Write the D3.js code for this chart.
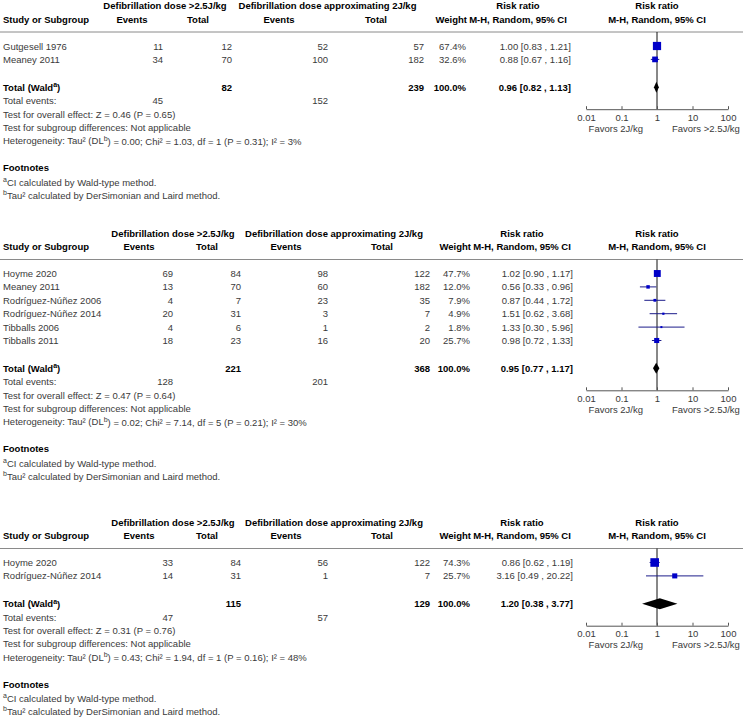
<!DOCTYPE html>
<html>
<head>
<meta charset="utf-8">
<script src="https://cdn.jsdelivr.net/npm/d3@7"></script>
<style>
  body { margin: 0; background: #fff; }
  svg { display: block; font-family: "Liberation Sans", Arial, sans-serif; font-size: 9.5px; }
</style>
</head>
<body>
<div id="chart"></div>
<script>
// column headings / labels
const groupA = "Defibrillation dose >2.5J/kg";
const groupB = "Defibrillation dose approximating 2J/kg";
const favorsLabels = ["Favors 2J/kg", "Favors >2.5J/kg"];
const axisTicks = [0.01, 0.1, 1, 10, 100];

// panel 1
const studies1 = [
  {name: "Gutgesell 1976", evA: 11, totA: 12, evB: 52, totB: 57, weight: 67.4, rr: 1.00, lo: 0.83, hi: 1.21},
  {name: "Meaney 2011", evA: 34, totA: 70, evB: 100, totB: 182, weight: 32.6, rr: 0.88, lo: 0.67, hi: 1.16}
];
const totals1 = {evA: 45, totA: 82, evB: 152, totB: 239, rr: 0.96, lo: 0.82, hi: 1.13};
const tests1 = ["Z = 0.46 (P = 0.65)", "0.00", "1.03", "1", "0.31", "3%"];

// panel 2
const studies2 = [
  {name: "Hoyme 2020", evA: 69, totA: 84, evB: 98, totB: 122, weight: 47.7, rr: 1.02, lo: 0.90, hi: 1.17},
  {name: "Meaney 2011", evA: 13, totA: 70, evB: 60, totB: 182, weight: 12.0, rr: 0.56, lo: 0.33, hi: 0.96},
  {name: "Rodríguez-Núñez 2006", evA: 4, totA: 7, evB: 23, totB: 35, weight: 7.9, rr: 0.87, lo: 0.44, hi: 1.72},
  {name: "Rodríguez-Núñez 2014", evA: 20, totA: 31, evB: 3, totB: 7, weight: 4.9, rr: 1.51, lo: 0.62, hi: 3.68},
  {name: "Tibballs 2006", evA: 4, totA: 6, evB: 1, totB: 2, weight: 1.8, rr: 1.33, lo: 0.30, hi: 5.96},
  {name: "Tibballs 2011", evA: 18, totA: 23, evB: 16, totB: 20, weight: 25.7, rr: 0.98, lo: 0.72, hi: 1.33}
];
const totals2 = {evA: 128, totA: 221, evB: 201, totB: 368, rr: 0.95, lo: 0.77, hi: 1.17};
const tests2 = ["Z = 0.47 (P = 0.64)", "0.02", "7.14", "5", "0.21", "30%"];

// panel 3
const studies3 = [
  {name: "Hoyme 2020", evA: 33, totA: 84, evB: 56, totB: 122, weight: 74.3, rr: 0.86, lo: 0.62, hi: 1.19},
  {name: "Rodríguez-Núñez 2014", evA: 14, totA: 31, evB: 1, totB: 7, weight: 25.7, rr: 3.16, lo: 0.49, hi: 20.22}
];
const totals3 = {evA: 47, totA: 115, evB: 57, totB: 129, rr: 1.20, lo: 0.38, hi: 3.77};
const tests3 = ["Z = 0.31 (P = 0.76)", "0.43", "1.94", "1", "0.16", "48%"];

const width = 743, height = 717;
const rowH = 13.4;
const textColor = "#3a3a3a";

// column positions (panel 1 was typeset a little narrower)
const colsNarrow = {evA: 163, totA: 232, evB: 328, totB: 424, weight: 466, ci: 571,
                    hEvA: 132, hTotA: 198, hEvB: 279, hTotB: 376, hRR: 518};
const colsWide = {evA: 173, totA: 241, evB: 328, totB: 430, weight: 470, ci: 573,
                  hEvA: 139, hTotA: 207, hEvB: 286, hTotB: 382, hRR: 522};

const panels = [
  {top: 5.5, cols: colsNarrow, studies: studies1, totals: totals1, tests: tests1},
  {top: 233, cols: colsWide, studies: studies2, totals: totals2, tests: tests2},
  {top: 522, cols: colsWide, studies: studies3, totals: totals3, tests: tests3}
];

const svg = d3.select("#chart").append("svg")
  .attr("width", width)
  .attr("height", height);

const x = d3.scaleLog().domain([0.01, 100]).range([586, 728]);
const boxSize = d3.scaleSqrt().domain([0, 100]).range([0, 10]);
const fmt2 = d3.format(".2f");
const ciText = d => fmt2(d.rr) + " [" + fmt2(d.lo) + " , " + fmt2(d.hi) + "]";

function txt(g, str, xPos, y, anchor, bold) {
  return g.append("text")
    .attr("x", xPos)
    .attr("y", y)
    .attr("dominant-baseline", "central")
    .attr("text-anchor", anchor || "start")
    .attr("font-weight", bold ? "bold" : null)
    .attr("fill", bold ? "#000" : textColor)
    .text(str);
}

function sup(t, s) {
  t.append("tspan").attr("font-size", "7px").attr("dy", -3).text(s);
  return t;
}

function drawPanel(p) {
  const g = svg.append("g");
  const c = p.cols;
  const t = p.top;
  const n = p.studies.length;
  const lineY = t + 26.5;
  const rowY = i => t + 40.5 + i * rowH;
  const totY = rowY(n + 1) + 1;
  const axisY = totY + 22;

  // headers
  txt(g, groupA, (c.hEvA + c.hTotA) / 2, t, "middle", true);
  txt(g, groupB, (c.hEvB + c.hTotB) / 2, t, "middle", true);
  txt(g, "Risk ratio", c.hRR, t, "middle", true);
  txt(g, "Risk ratio", x(1), t, "middle", true);
  const h2 = t + 13.5;
  txt(g, "Study or Subgroup", 3, h2, "start", true);
  txt(g, "Events", c.hEvA, h2, "middle", true);
  txt(g, "Total", c.hTotA, h2, "middle", true);
  txt(g, "Events", c.hEvB, h2, "middle", true);
  txt(g, "Total", c.hTotB, h2, "middle", true);
  txt(g, "Weight", c.weight + 1, h2, "end", true);
  txt(g, "M-H, Random, 95% CI", c.hRR, h2, "middle", true);
  txt(g, "M-H, Random, 95% CI", x(1), h2, "middle", true);

  g.append("line")
    .attr("x1", 0).attr("x2", width)
    .attr("y1", lineY).attr("y2", lineY)
    .attr("stroke", "#8a8a8a").attr("stroke-width", 1);

  // study rows
  p.studies.forEach((d, i) => {
    const y = rowY(i);
    txt(g, d.name, 3, y);
    txt(g, d.evA, c.evA, y, "end");
    txt(g, d.totA, c.totA, y, "end");
    txt(g, d.evB, c.evB, y, "end");
    txt(g, d.totB, c.totB, y, "end");
    txt(g, d.weight.toFixed(1) + "%", c.weight, y, "end");
    txt(g, ciText(d), c.ci, y, "end");
  });

  // reference line at 1
  g.append("line")
    .attr("x1", x(1)).attr("x2", x(1))
    .attr("y1", lineY).attr("y2", axisY)
    .attr("stroke", "#111").attr("stroke-width", 1);

  const marks = g.selectAll(".study")
    .data(p.studies)
    .enter()
    .append("g")
    .attr("class", "study");
  marks.append("line")
    .attr("x1", d => x(d.lo)).attr("x2", d => x(d.hi))
    .attr("y1", (d, i) => rowY(i)).attr("y2", (d, i) => rowY(i))
    .attr("stroke", "#1c1c8a").attr("stroke-width", 1);
  marks.append("rect")
    .attr("x", d => x(d.rr) - Math.max(boxSize(d.weight), 2) / 2)
    .attr("y", (d, i) => rowY(i) - Math.max(boxSize(d.weight), 2) / 2)
    .attr("width", d => Math.max(boxSize(d.weight), 2))
    .attr("height", d => Math.max(boxSize(d.weight), 2))
    .attr("fill", "#0000c8");

  // totals
  const tt = p.totals;
  sup(txt(g, "Total (Wald", 3, totY, "start", true), "a")
    .append("tspan").attr("font-size", "9.5px").attr("dy", 3).text(")");
  txt(g, tt.totA, c.totA, totY, "end", true);
  txt(g, tt.totB, c.totB, totY, "end", true);
  txt(g, "100.0%", c.weight, totY, "end", true);
  txt(g, ciText(tt), c.ci, totY, "end", true);

  g.append("path")
    .attr("d", d3.line()([
      [x(tt.lo), totY], [x(tt.rr), totY - 5.5],
      [x(tt.hi), totY], [x(tt.rr), totY + 5.5]
    ]) + "Z")
    .attr("fill", "#000");

  const evY = totY + rowH;
  txt(g, "Total events:", 3, evY);
  txt(g, tt.evA, c.evA, evY, "end");
  txt(g, tt.evB, c.evB, evY, "end");

  const s = p.tests;
  txt(g, "Test for overall effect: " + s[0], 3, evY + rowH);
  txt(g, "Test for subgroup differences: Not applicable", 3, evY + 2 * rowH);
  const het = txt(g, "Heterogeneity: Tau² (DL", 3, evY + 3 * rowH);
  sup(het, "b");
  het.append("tspan").attr("dy", 3)
    .text(") = " + s[1] + "; Chi² = " + s[2] + ", df = " + s[3] + " (P = " + s[4] + "); I² = " + s[5]);

  // footnotes
  const fY = evY + 3 * rowH + 27;
  txt(g, "Footnotes", 3, fY, "start", true);
  const fa = txt(g, "", 3, fY + 14);
  sup(fa, "a");
  fa.append("tspan").attr("dy", 3).text("CI calculated by Wald-type method.");
  const fb = txt(g, "", 3, fY + 27);
  sup(fb, "b");
  fb.append("tspan").attr("dy", 3).text("Tau² calculated by DerSimonian and Laird method.");

  // axis
  const axis = d3.axisBottom(x)
    .tickValues(axisTicks)
    .tickFormat(d => String(d))
    .tickSize(-3)
    .tickSizeOuter(0)
    .tickPadding(5);
  const ag = g.append("g")
    .attr("transform", "translate(0," + axisY + ")")
    .call(axis);
  ag.select(".domain").attr("stroke", "#555");
  ag.selectAll(".tick line").attr("stroke", "#555").attr("y2", -3);
  ag.selectAll(".tick text")
    .attr("fill", textColor)
    .attr("font-size", "9.5px")
    .attr("font-family", "Liberation Sans, Arial, sans-serif");

  txt(g, favorsLabels[0], x(1) - 14, totY + 41, "end");
  txt(g, favorsLabels[1], x(1) + 15, totY + 41, "start");
}

panels.forEach(drawPanel);
</script>
</body>
</html>
